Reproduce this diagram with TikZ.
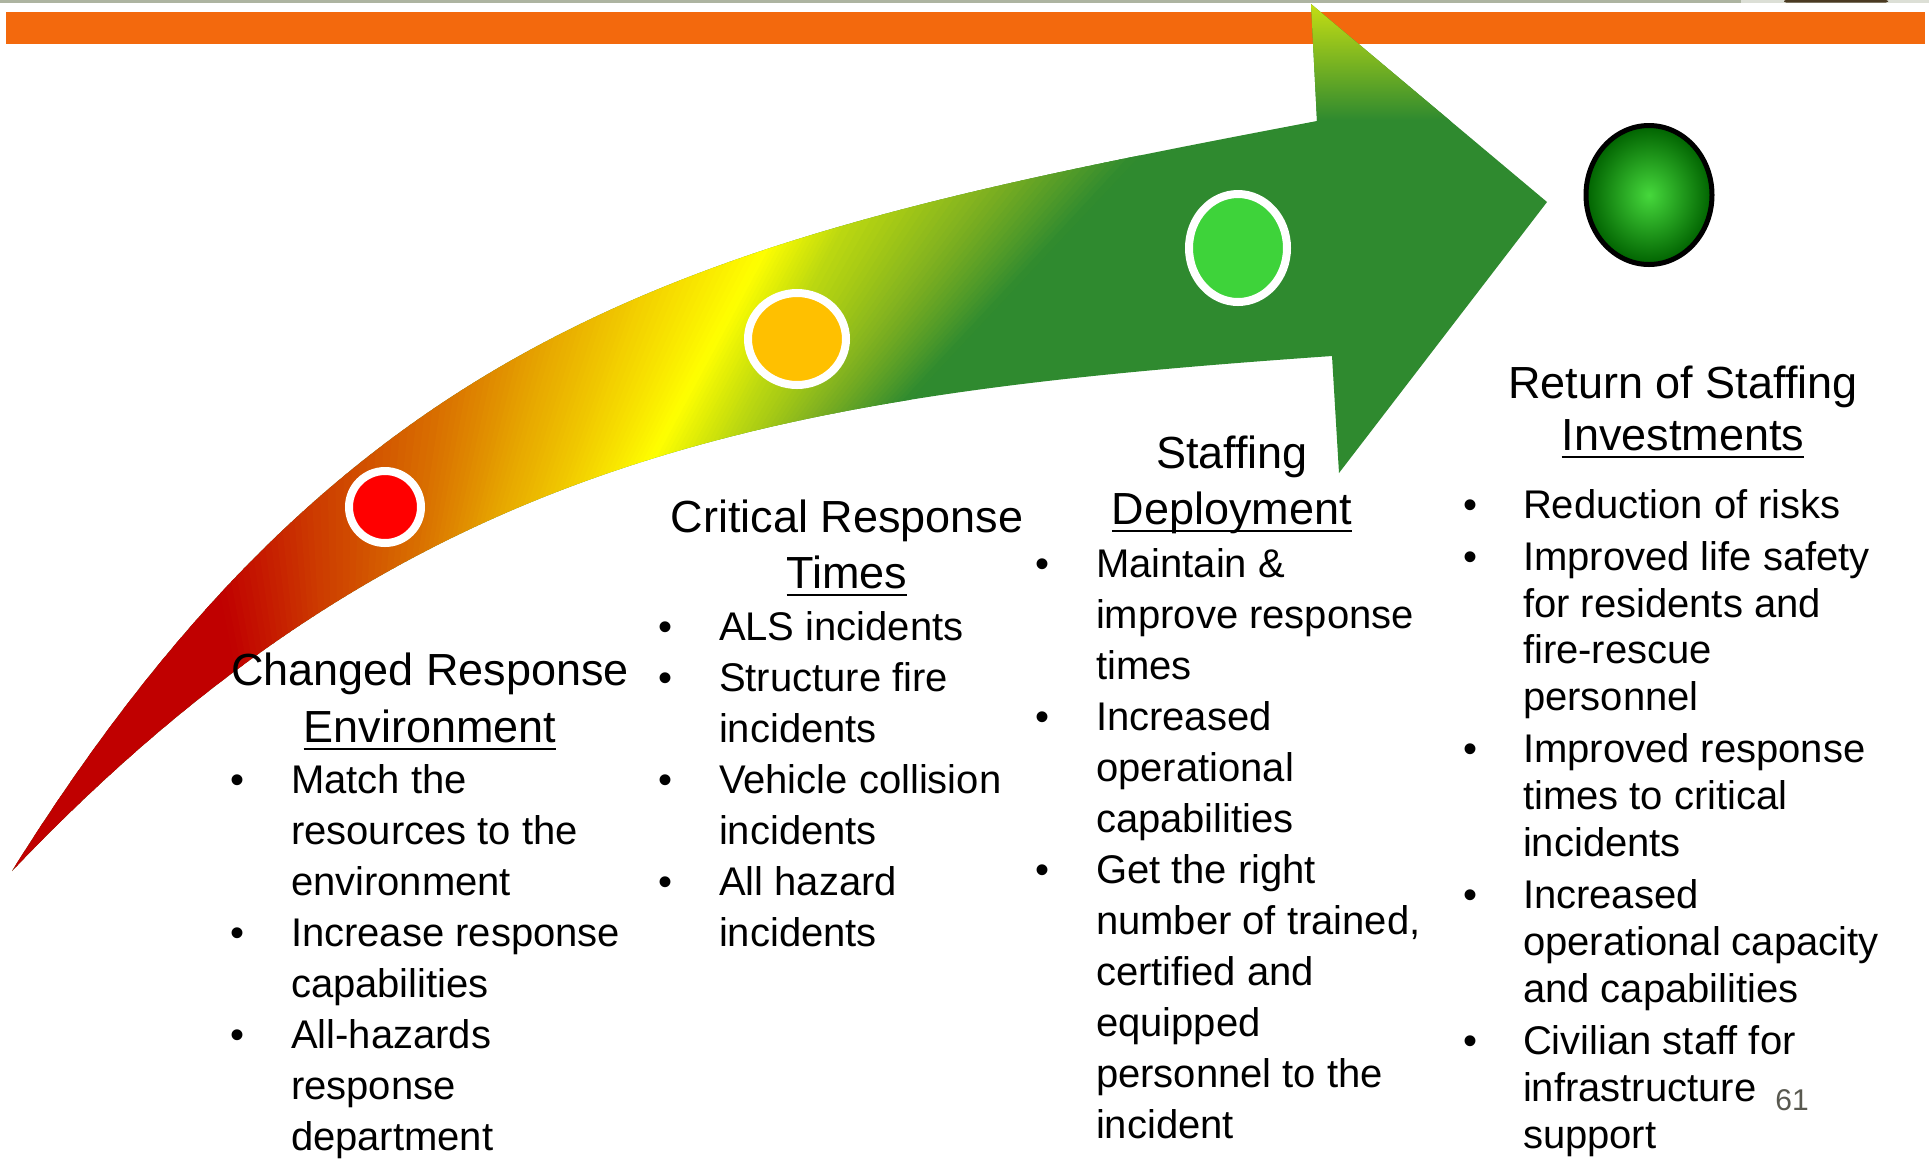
\documentclass[tikz,border=0pt]{standalone}
\usepackage{fontspec}
\setmainfont{Liberation Sans}
\usetikzlibrary{calc,shapes.geometric}

\definecolor{barorange}{HTML}{F3690D}
\definecolor{topgrey}{HTML}{ADB4A1}
\definecolor{toplight}{HTML}{DCDFD6}
\definecolor{topdark}{HTML}{4A3A22}
\definecolor{arrowgreen}{HTML}{2F8A2F}
\definecolor{headtop}{HTML}{CCE212}
\definecolor{dotred}{HTML}{FF0000}
\definecolor{dotorange}{HTML}{FFC000}
\definecolor{dotgreen}{HTML}{3ED33A}
\definecolor{balllight}{HTML}{46D83C}
\definecolor{balldark}{HTML}{006200}
\definecolor{pagegrey}{HTML}{595950}
% colour stops along the arrow body
\definecolor{st0}{HTML}{C00000}
\definecolor{st1}{HTML}{C00000}
\definecolor{st2}{HTML}{CC3A00}
\definecolor{st3}{HTML}{D97000}
\definecolor{st4}{HTML}{E6A400}
\definecolor{st5}{HTML}{F2CE00}
\definecolor{st6}{HTML}{FFFF00}
\definecolor{st7}{HTML}{BCD810}
\definecolor{st8}{HTML}{7EB020}
\definecolor{st9}{HTML}{2F8A2F}

\tikzset{
  bodytext/.style={font=\fontsize{20pt}{24pt}\selectfont, inner sep=0pt, outer sep=0pt, anchor=base west},
  titletext/.style={font=\fontsize{22.5pt}{27pt}\selectfont, inner sep=0pt, outer sep=0pt, anchor=base},
  uline/.style={line width=1.4pt},
  ringdot/.style={ellipse, draw=white, line width=4pt, inner sep=0pt},
}

% outline of the curved arrow (pixel units, y pointing down)
\newcommand\arrowoutline{(12,871)
  .. controls (362,311) and (717,235) .. (1317,121)
  -- (1311,4) -- (1547,202) -- (1339,473) -- (1332,356)
  .. controls (782,394.5) and (412,451) .. (12,871)
  -- cycle}

\begin{document}
\begin{tikzpicture}[x=0.5pt,y=-0.5pt]
\useasboundingbox (0,0) rectangle (1929,1158);
\fill[white] (0,0) rectangle (1929,1158);

% header rule and bar
\fill[topgrey] (0,0) rectangle (1741,3);
\fill[toplight] (1741,0) rectangle (1929,3);
\fill[topdark, rounded corners=1pt] (1784,0) rectangle (1888,2.5);
\fill[barorange] (6,12) rectangle (1925,44);

% arrow body
\fill[arrowgreen] \arrowoutline;
\begin{scope}
  \clip \arrowoutline;
  \coordinate (t0) at (-60,480);  \coordinate (b0) at (-60,1000);
  \coordinate (t1) at (205,520);  \coordinate (b1) at (250,740);
  \coordinate (t2) at (310,460);  \coordinate (b2) at (320,650);
  \coordinate (t3) at (445,375);  \coordinate (b3) at (410,610);
  \coordinate (t4) at (550,315);  \coordinate (b4) at (480,565);
  \coordinate (t5) at (650,270);  \coordinate (b5) at (560,520);
  \coordinate (t6) at (775,230);  \coordinate (b6) at (635,490);
  \coordinate (t7) at (860,195);  \coordinate (b7) at (715,470);
  \coordinate (t8) at (1010,165); \coordinate (b8) at (790,450);
  \coordinate (t9) at (1170,120); \coordinate (b9) at (870,440);
  \foreach \sa/\sb in {0/1,1/2,2/3,3/4,4/5,5/6,6/7,7/8,8/9}{
    \foreach \k in {0,...,15}{
      \pgfmathsetmacro\ta{\k/16}
      \pgfmathsetmacro\tb{(\k+1.5)/16}
      \pgfmathsetmacro\pc{100*(\k+0.5)/16}
      \fill[st\sb!\pc!st\sa] ($(t\sa)!\ta!(t\sb)$) -- ($(t\sa)!\tb!(t\sb)$)
        -- ($(b\sa)!\tb!(b\sb)$) -- ($(b\sa)!\ta!(b\sb)$) -- cycle;
    }
  }
  \shade[top color=headtop, bottom color=arrowgreen] (1290,-2) rectangle (1500,120);
\end{scope}

% stage markers
\node[ringdot, fill=dotred, minimum width=36pt, minimum height=36pt] (m1) at (385,507) {};
\node[ringdot, fill=dotorange, minimum width=49pt, minimum height=46pt] (m2) at (797,339) {};
\node[ringdot, fill=dotgreen, minimum width=49pt, minimum height=54pt] (m3) at (1238,248) {};
\node[ellipse, draw=black, line width=2.5pt, inner sep=0pt, inner color=balllight, outer color=balldark, minimum width=63pt, minimum height=69.5pt] (m4) at (1649,195) {};

% column 1
\node[titletext] (h1a) at (430,685) {Changed Response};
\node[titletext] (h1b) at (430,742) {Environment};
\draw[uline] ($(h1b.base west)+(0,7)$) -- ($(h1b.base east)+(0,7)$);
\foreach \yy/\txt/\hasb [count=\i] in {793/Match the/1, 844/resources to the/0, 895/environment/0,
    946/Increase response/1, 997/capabilities/0, 1048/All-hazards/1, 1099/response/0, 1150/department/0}{
  \node[bodytext] (p1l\i) at (291,\yy) {\txt};
  \ifnum\hasb=1 \node[bodytext] (p1b\i) at (230,\yy) {\textbullet}; \fi
}

% column 2
\node[titletext] (h2a) at (847,532) {Critical Response};
\node[titletext] (h2b) at (847,588) {Times};
\draw[uline] ($(h2b.base west)+(0,7)$) -- ($(h2b.base east)+(0,7)$);
\foreach \yy/\txt/\hasb [count=\i] in {640/ALS incidents/1, 691/Structure fire/1, 742/incidents/0,
    793/Vehicle collision/1, 844/incidents/0, 895/All hazard/1, 946/incidents/0}{
  \node[bodytext] (p2l\i) at (719,\yy) {\txt};
  \ifnum\hasb=1 \node[bodytext] (p2b\i) at (658,\yy) {\textbullet}; \fi
}

% column 3
\node[titletext] (h3a) at (1232,468) {Staffing};
\node[titletext] (h3b) at (1232,524) {Deployment};
\draw[uline] ($(h3b.base west)+(0,7)$) -- ($(h3b.base east)+(0,7)$);
\foreach \yy/\txt/\hasb [count=\i] in {577/Maintain \&/1, 628/improve response/0, 679/times/0,
    730/Increased/1, 781/operational/0, 832/capabilities/0, 883/Get the right/1,
    934/{number of trained,}/0, 985/certified and/0, 1036/equipped/0, 1087/personnel to the/0, 1138/incident/0}{
  \node[bodytext] (p3l\i) at (1096,\yy) {\txt};
  \ifnum\hasb=1 \node[bodytext] (p3b\i) at (1035,\yy) {\textbullet}; \fi
}

% column 4
\node[titletext] (h4a) at (1683,398) {Return of Staffing};
\node[titletext] (h4b) at (1683,450) {Investments};
\draw[uline] ($(h4b.base west)+(0,7)$) -- ($(h4b.base east)+(0,7)$);
\foreach \yy/\txt/\hasb [count=\i] in {518/Reduction of risks/1, 570/Improved life safety/1, 617/for residents and/0,
    663/fire-rescue/0, 710/personnel/0, 762/Improved response/1, 809/times to critical/0, 856/incidents/0,
    908/Increased/1, 955/operational capacity/0, 1002/and capabilities/0, 1054/Civilian staff for/1,
    1101/infrastructure/0, 1148/support/0}{
  \node[bodytext] (p4l\i) at (1523,\yy) {\txt};
  \ifnum\hasb=1 \node[bodytext] (p4b\i) at (1463,\yy) {\textbullet}; \fi
}

% slide number
\node[inner sep=0pt, anchor=base west, text=pagegrey, font=\fontsize{15pt}{18pt}\selectfont] (pnum) at (1775,1110) {61};
\end{tikzpicture}
\end{document}
